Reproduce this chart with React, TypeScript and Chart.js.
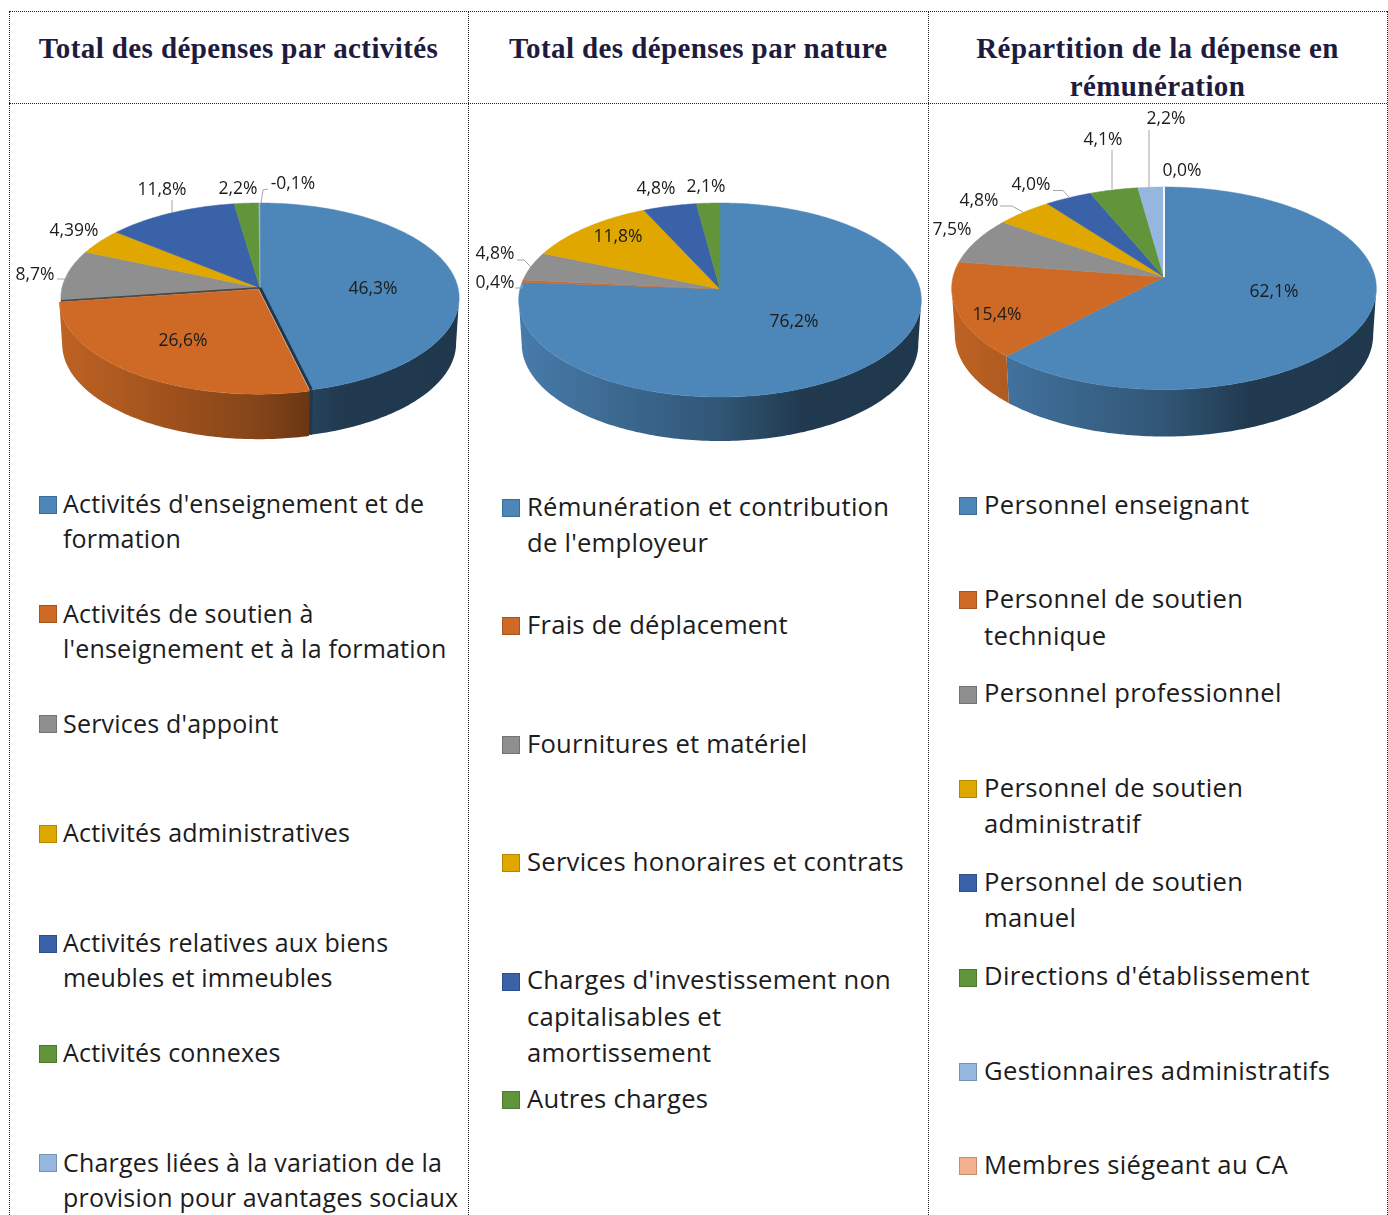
import React, { useEffect, useRef } from "react";
import { Chart, registerables } from "chart.js";

Chart.register(...registerables);

const paletteColors = ["#4D86B9", "#CE6A26", "#8F8F8F", "#DFA700", "#3A62A8", "#62953B", "#95B6DF", "#F4B18F"];

const activityTitle = "Total des dépenses par activités";
const activityLabels = [
  "Activités d'enseignement et de formation",
  "Activités de soutien à l'enseignement et à la formation",
  "Services d'appoint",
  "Activités administratives",
  "Activités relatives aux biens meubles et immeubles",
  "Activités connexes",
  "Charges liées à la variation de la provision pour avantages sociaux",
];
const activityValues = [46.3, 26.6, 8.7, 4.39, 11.8, 2.2, -0.1];
const activityOffsets = [0, 3, 0, 0, 0, 0, 0];

const natureTitle = "Total des dépenses par nature";
const natureLabels = [
  "Rémunération et contribution de l'employeur",
  "Frais de déplacement",
  "Fournitures et matériel",
  "Services honoraires et contrats",
  "Charges d'investissement non capitalisables et amortissement",
  "Autres charges",
];
const natureValues = [76.2, 0.4, 4.8, 11.8, 4.8, 2.1];

const payTitle = "Répartition de la dépense en rémunération";
const payLabels = [
  "Personnel enseignant",
  "Personnel de soutien technique",
  "Personnel professionnel",
  "Personnel de soutien administratif",
  "Personnel de soutien manuel",
  "Directions d'établissement",
  "Gestionnaires administratifs",
  "Membres siégeant au CA",
];
const payValues = [62.1, 15.4, 7.5, 4.8, 4.0, 4.1, 2.2, 0.0];

type Pt = [number, number];
type PieSpec = {
  title: string; labels: string[]; values: number[]; offsets?: number[];
  cx: number; cy: number; radius: number; rise: number; drop: number; depth: number;
  labelAt: Pt[]; leaders: Pt[][];
  cellX: number; titleW: number;
  legendX: number; swatchX: number; legendTop: number; pitch: number; lineH: number; legendW: number; legendFont: number; legendSpacing: number;
};

const pies: PieSpec[] = [
  {
    title: activityTitle, labels: activityLabels, values: activityValues, offsets: activityOffsets,
    cx: 260, cy: 288, radius: 198, rise: 85, drop: 105, depth: 45,
    labelAt: [[373, 288], [183, 340], [35, 274], [74, 230], [162, 189], [238, 188], [293, 183]],
    leaders: [
      [[57, 279], [65, 279], [69, 275]],
      [[172, 200], [172, 212]],
      [[268, 189], [263, 190], [261, 203]],
    ],
    cellX: 9, titleW: 459,
    legendX: 63, swatchX: 39, legendTop: 503.5, pitch: 109.8, lineH: 35, legendW: 404, legendFont: 25, legendSpacing: 0.2,
  },
  {
    title: natureTitle, labels: natureLabels, values: natureValues,
    cx: 720, cy: 289, radius: 200, rise: 86, drop: 108, depth: 44,
    labelAt: [[794, 321], [495, 282], [495, 253], [618, 236], [656, 188], [706, 186]],
    leaders: [
      [[515, 288], [522, 288], [522, 284]],
      [[517, 260], [524, 260], [531, 267]],
    ],
    cellX: 468.5, titleW: 459.5,
    legendX: 527, swatchX: 502, legendTop: 507, pitch: 118.4, lineH: 36.5, legendW: 384, legendFont: 25.6, legendSpacing: 0.25,
  },
  {
    title: payTitle, labels: payLabels, values: payValues,
    cx: 1164, cy: 277, radius: 211, rise: 90, drop: 112.5, depth: 47,
    labelAt: [[1274, 291], [997, 314], [952, 229], [979, 200], [1031, 184], [1103, 139], [1166, 118], [1182, 170]],
    leaders: [
      [[1000, 206], [1012, 206], [1023, 212]],
      [[1053, 190.5], [1063, 190.5], [1069, 197]],
      [[1112, 150], [1112, 189]],
      [[1149, 130], [1149, 187]],
    ],
    cellX: 928, titleW: 459,
    legendX: 984, swatchX: 959, legendTop: 505, pitch: 94.3, lineH: 36.5, legendW: 352, legendFont: 25.6, legendSpacing: 0.35,
  },
];

const CANVAS_W = 500;
const CANVAS_H = 360;
const labelFont = "17.5px 'Open Sans'";
const textColor = "#1c1c1c";
const titleColor = "#1E1B3E";
const wallStops: Pt[] = [[0, 0.92], [0.5, 0.64], [0.7, 0.43], [1, 0.42]];

function shade(hex: string, f: number) {
  const n = parseInt(hex.slice(1), 16);
  const c = [(n >> 16) & 255, (n >> 8) & 255, n & 255].map((v) => Math.round(v * f));
  return `rgb(${c[0]},${c[1]},${c[2]})`;
}

function formatValue(v: number) {
  const oneDecimal = Math.round(v * 10) / 10 === v;
  return (oneDecimal ? v.toFixed(1) : String(v)).replace(".", ",") + "%";
}

function perspectivePlugin(spec: PieSpec) {
  const p = (spec.drop - spec.rise) / (spec.drop + spec.rise);
  const b = spec.rise * (1 + p);
  const originX = spec.cx - CANVAS_W / 2;
  const originY = spec.cy - CANVAS_H / 2;
  return {
    id: "perspectivePie",
    beforeDatasetDraw(chart: any) {
      const ctx: CanvasRenderingContext2D = chart.ctx;
      const arcs: any[] = chart.getDatasetMeta(0).data;
      const project = (arc: any, theta: number, dx = 0, dy = 0): Pt => {
        const u = Math.cos(theta);
        const v = Math.sin(theta);
        const w = 1 - p * v;
        return [arc.x + (u * arc.outerRadius) / w + dx, arc.y + (b * v) / w + dy];
      };
      const shift = (arc: any): Pt => {
        const off = arc.options.offset || 0;
        if (!off) return [0, 0];
        const mid = (arc.startAngle + arc.endAngle) / 2;
        return [Math.cos(mid) * off, Math.sin(mid) * off * (b / arc.outerRadius)];
      };
      const visibleA = Math.asin(p);
      const visibleB = Math.PI - visibleA;
      const order = arcs.map((_, i) => i).sort((a, c) => (arcs[a].options.offset || 0) - (arcs[c].options.offset || 0));

      for (const i of order) {
        const arc = arcs[i];
        const a0 = Math.max(arc.startAngle, visibleA);
        const a1 = Math.min(arc.endAngle, visibleB);
        if (a1 <= a0) continue;
        const [dx, dy] = shift(arc);
        if (arc.options.offset) {
          const prev = paletteColors[(i + arcs.length - 1) % arcs.length];
          const top = project(arc, arc.startAngle);
          ctx.beginPath();
          ctx.moveTo(top[0] - 1, top[1]);
          ctx.lineTo(arc.x + (top[0] - arc.x) * 0.985 - 1, top[1] + spec.depth);
          ctx.strokeStyle = shade(prev, 0.42);
          ctx.lineWidth = 5;
          ctx.stroke();
        }
        const R = arc.outerRadius;
        const grad = ctx.createLinearGradient(arc.x - R, 0, arc.x + R, 0);
        const base = paletteColors[i];
        wallStops.forEach(([s, f]) => grad.addColorStop(s, shade(base, f)));
        const steps = Math.max(4, Math.ceil((a1 - a0) * 60));
        ctx.beginPath();
        for (let s = 0; s <= steps; s++) {
          const pt = project(arc, a0 + ((a1 - a0) * s) / steps, dx, dy);
          if (s === 0) ctx.moveTo(pt[0], pt[1]);
          else ctx.lineTo(pt[0], pt[1]);
        }
        for (let s = steps; s >= 0; s--) {
          const pt = project(arc, a0 + ((a1 - a0) * s) / steps, dx, dy);
          ctx.lineTo(arc.x + (pt[0] - arc.x) * 0.985, pt[1] + spec.depth);
        }
        ctx.closePath();
        ctx.fillStyle = grad;
        ctx.fill();
      }

      const drawTop = (i: number) => {
        const arc = arcs[i];
        const span = arc.endAngle - arc.startAngle;
        if (span < 1e-6) return;
        const [dx, dy] = shift(arc);
        const steps = Math.max(2, Math.ceil(span * 80));
        ctx.beginPath();
        ctx.moveTo(arc.x + dx, arc.y + dy);
        for (let s = 0; s <= steps; s++) {
          const pt = project(arc, arc.startAngle + (span * s) / steps, dx, dy);
          ctx.lineTo(pt[0], pt[1]);
        }
        ctx.closePath();
        ctx.fillStyle = arc.options.backgroundColor;
        ctx.strokeStyle = arc.options.backgroundColor;
        ctx.lineWidth = 0.5;
        ctx.fill();
        ctx.stroke();
      };
      const edge = (arc: any, theta: number, color: string, width: number) => {
        const pt = project(arc, theta);
        ctx.beginPath();
        ctx.moveTo(arc.x, arc.y);
        ctx.lineTo(pt[0], pt[1]);
        ctx.strokeStyle = color;
        ctx.lineWidth = width;
        ctx.stroke();
      };

      arcs.forEach((arc, i) => { if (!arc.options.offset) drawTop(i); });
      arcs.forEach((arc, i) => {
        if (arc.options.offset) {
          edge(arc, arc.startAngle, shade(paletteColors[(i + arcs.length - 1) % arcs.length], 0.42), 3);
          edge(arc, arc.endAngle, shade(paletteColors[(i + 1) % arcs.length], 0.5), 2);
          drawTop(i);
        }
        if (arc.endAngle - arc.startAngle < 1e-6) edge(arc, arc.startAngle, "#F4F6FA", 2);
      });
      return false;
    },
    afterDatasetsDraw(chart: any) {
      const ctx: CanvasRenderingContext2D = chart.ctx;
      ctx.save();
      ctx.strokeStyle = "#A6A6A6";
      ctx.lineWidth = 1;
      for (const line of spec.leaders) {
        ctx.beginPath();
        line.forEach(([x, y], i) => {
          if (i === 0) ctx.moveTo(x - originX, y - originY);
          else ctx.lineTo(x - originX, y - originY);
        });
        ctx.stroke();
      }
      ctx.font = labelFont;
      ctx.fillStyle = textColor;
      ctx.textAlign = "center";
      ctx.textBaseline = "middle";
      spec.values.forEach((v, i) => {
        const [x, y] = spec.labelAt[i];
        ctx.fillText(formatValue(v), x - originX, y - originY + 1);
      });
      ctx.restore();
    },
  };
}

function PieCanvas({ spec }: { spec: PieSpec }) {
  const ref = useRef<HTMLCanvasElement>(null);
  useEffect(() => {
    const chart = new Chart(ref.current as HTMLCanvasElement, {
      type: "pie",
      data: {
        labels: spec.labels,
        datasets: [{
          data: spec.values,
          backgroundColor: paletteColors.slice(0, spec.values.length),
          borderWidth: 0,
          offset: spec.offsets || 0,
        }],
      },
      options: {
        animation: false,
        responsive: false,
        devicePixelRatio: 1,
        radius: spec.radius,
        layout: { padding: 0 },
        plugins: { legend: { display: false }, tooltip: { enabled: false } },
      },
      plugins: [perspectivePlugin(spec)],
    } as any);
    return () => chart.destroy();
  }, [spec]);
  return (
    <canvas
      ref={ref}
      width={CANVAS_W}
      height={CANVAS_H}
      style={{ position: "absolute", left: spec.cx - CANVAS_W / 2, top: spec.cy - CANVAS_H / 2, width: CANVAS_W, height: CANVAS_H }}
    />
  );
}

function Legend({ spec }: { spec: PieSpec }) {
  return (
    <>
      {spec.labels.map((label, i) => {
        const y = spec.legendTop + i * spec.pitch;
        return (
          <React.Fragment key={label}>
            <div style={{
              position: "absolute", left: spec.swatchX, top: y - 8, width: 16, height: 16,
              background: paletteColors[i], border: `1px solid ${shade(paletteColors[i], 0.8)}`,
            }} />
            <div style={{
              position: "absolute", left: spec.legendX, top: y - spec.lineH / 2, width: spec.legendW,
              font: `${spec.legendFont}px/${spec.lineH}px 'Open Sans'`, letterSpacing: spec.legendSpacing, color: textColor,
            }}>{label}</div>
          </React.Fragment>
        );
      })}
    </>
  );
}

const dotted = "1px dotted #222";

export default function App() {
  return (
    <div style={{ position: "absolute", left: 0, top: 0, width: 1388, height: 1215, overflow: "hidden", background: "#fff" }}>
      {[10.5, 102.5].map((y) => (
        <div key={y} style={{ position: "absolute", left: 9, top: y, width: 1378, borderTop: dotted }} />
      ))}
      {[9, 468, 928, 1387].map((x) => (
        <div key={x} style={{ position: "absolute", left: x, top: 11, height: 1204, borderLeft: dotted }} />
      ))}
      {pies.map((spec) => (
        <React.Fragment key={spec.title}>
          <div style={{
            position: "absolute", left: spec.cellX, top: 29, width: spec.titleW, padding: "0 15px", boxSizing: "border-box",
            textAlign: "center", font: "bold 29px/38px 'Liberation Serif'", letterSpacing: 0.4, color: titleColor,
          }}>{spec.title}</div>
          <PieCanvas spec={spec} />
          <Legend spec={spec} />
        </React.Fragment>
      ))}
    </div>
  );
}
